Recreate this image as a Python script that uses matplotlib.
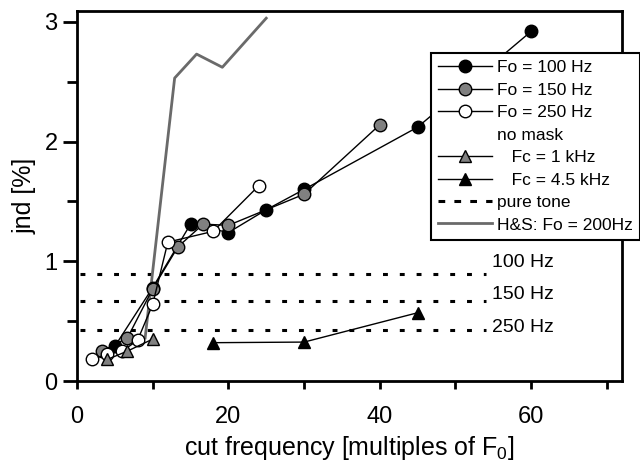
import matplotlib
matplotlib.use("Agg")
import matplotlib.pyplot as plt
from matplotlib.lines import Line2D
from matplotlib.ticker import MultipleLocator

plt.rcParams['font.family'] = ['Liberation Sans', 'DejaVu Sans']

# Data (harmonic number of cut frequency vs jnd in %)
x_f100 = [5, 10, 15, 20, 25, 30, 45, 60]
y_f100 = [0.29, 0.78, 1.31, 1.24, 1.43, 1.60, 2.12, 2.92]

x_f150 = [3.33, 6.67, 10, 13.33, 16.67, 20, 30, 40]
y_f150 = [0.25, 0.36, 0.77, 1.12, 1.31, 1.30, 1.56, 2.14]

x_f250 = [2, 4, 6, 8, 10, 12, 18, 24]
y_f250 = [0.18, 0.225, 0.25, 0.34, 0.64, 1.16, 1.25, 1.63]

x_fc1 = [4, 6.67, 10]
y_fc1 = [0.18, 0.25, 0.35]

x_fc45 = [18, 30, 45]
y_fc45 = [0.32, 0.325, 0.57]

x_hs = [9, 12.9, 15.8, 19.2, 25]
y_hs = [0.36, 2.53, 2.73, 2.62, 3.03]

pure_labels = ["100 Hz", "150 Hz", "250 Hz"]
pure_y = [0.89, 0.67, 0.43]
pure_label_y = [0.99, 0.72, 0.45]
pure_x = [0.4, 54]

legend_labels = ["Fo = 100 Hz", "Fo = 150 Hz", "Fo = 250 Hz", "no mask",
                 "   Fc = 1 kHz", "   Fc = 4.5 kHz", "pure tone", "H&S: Fo = 200Hz"]

fig = plt.figure(figsize=(6.4, 4.68), dpi=100)
ax = fig.add_axes([77/640, 1-381/468, (622-77)/640, (381-11)/468])

GRAY = "#808080"
LGRAY = "#6a6a6a"
ms = 9
lw = 1.0

for yv in pure_y:
    ax.plot(pure_x, [yv, yv], color='black', lw=2.2, dashes=(1.6, 3.9), zorder=1)
for yv, lab in zip(pure_label_y, pure_labels):
    ax.text(54.8, yv, lab, fontsize=14, va='center', ha='left')

ax.plot(x_hs, y_hs, color=LGRAY, lw=2.0, zorder=2)

ax.plot(x_f100, y_f100, '-o', color='black', mfc='black', mec='black', ms=ms, lw=lw, zorder=3)
ax.plot(x_f150, y_f150, '-o', color='black', mfc=GRAY, mec='black', ms=ms, lw=lw, zorder=3)
ax.plot(x_f250, y_f250, '-o', color='black', mfc='white', mec='black', ms=ms, lw=lw, zorder=3)
ax.plot(x_fc1, y_fc1, '-^', color='black', mfc=GRAY, mec='black', ms=ms, lw=lw, zorder=4)
ax.plot(x_fc45, y_fc45, '-^', color='black', mfc='black', mec='black', ms=ms, lw=lw, zorder=4)

ax.set_xlim(0, 72)
ax.set_ylim(0, 3.09)
ax.xaxis.set_major_locator(MultipleLocator(20))
ax.xaxis.set_minor_locator(MultipleLocator(10))
ax.yaxis.set_major_locator(MultipleLocator(1))
ax.yaxis.set_minor_locator(MultipleLocator(0.5))
ax.tick_params(axis='x', which='both', direction='out', length=6, width=2, labelsize=17, pad=12)
ax.tick_params(axis='y', which='major', direction='out', length=10, width=2, labelsize=17, pad=4)
ax.tick_params(axis='y', which='minor', direction='out', length=7, width=2)
for s in ax.spines.values():
    s.set_linewidth(2)

ax.set_xlabel("cut frequency [multiples of F$_\\mathregular{0}$]", fontsize=18, labelpad=4)
ax.set_ylabel("jnd [%]", fontsize=18, labelpad=6)

handles = [
    Line2D([], [], color='black', lw=lw, marker='o', mfc='black', mec='black', ms=ms),
    Line2D([], [], color='black', lw=lw, marker='o', mfc=GRAY, mec='black', ms=ms),
    Line2D([], [], color='black', lw=lw, marker='o', mfc='white', mec='black', ms=ms),
    Line2D([], [], color='none', lw=0),
    Line2D([], [], color='black', lw=lw, marker='^', mfc=GRAY, mec='black', ms=ms),
    Line2D([], [], color='black', lw=lw, marker='^', mfc='black', mec='black', ms=ms),
    Line2D([], [], color='black', lw=2.2, dashes=(2.2, 3.0)),
    Line2D([], [], color=LGRAY, lw=2.0),
]
leg = ax.legend(handles, legend_labels, loc='upper left',
                bbox_to_anchor=(431/640, 1-53/468), bbox_transform=fig.transFigure,
                fontsize=12.5, frameon=True, fancybox=False, framealpha=1,
                edgecolor='black', handlelength=3.1, handletextpad=0.3,
                labelspacing=0.42, borderpad=0.42, borderaxespad=0)
leg.get_frame().set_linewidth(1.5)
leg.set_zorder(10)

fig.savefig("out.png", dpi=100)
